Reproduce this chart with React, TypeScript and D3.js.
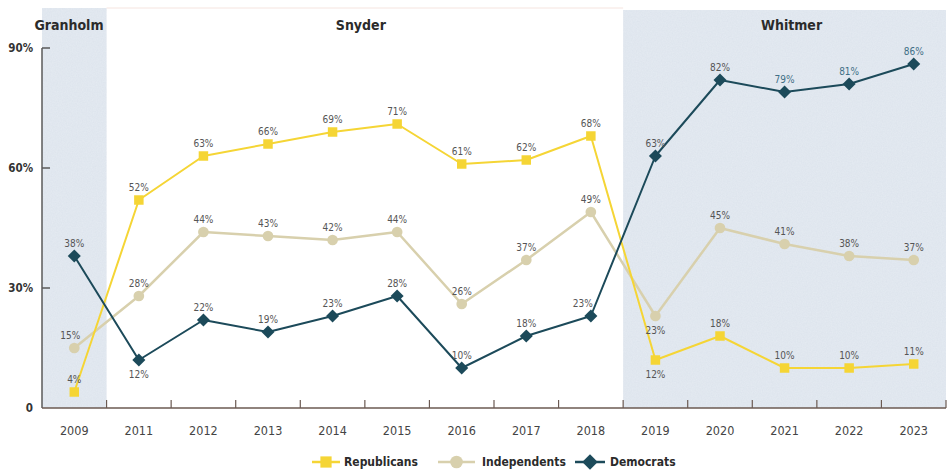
import React, { useEffect, useRef } from 'react';
import * as d3 from 'd3';

const years = ['2009', '2011', '2012', '2013', '2014', '2015', '2016', '2017', '2018', '2019', '2020', '2021', '2022', '2023'];
const republicans = [4, 52, 63, 66, 69, 71, 61, 62, 68, 12, 18, 10, 10, 11];
const independents = [15, 28, 44, 43, 42, 44, 26, 37, 49, 23, 45, 41, 38, 37];
const democrats = [38, 12, 22, 19, 23, 28, 10, 18, 23, 63, 82, 79, 81, 86];
const yTicks = [0, 30, 60, 90];

// governors: first / last year of each term in the category list
const governors = [
  { name: 'Granholm', from: '2009', to: '2009', shaded: true },
  { name: 'Snyder', from: '2011', to: '2018', shaded: false },
  { name: 'Whitmer', from: '2019', to: '2023', shaded: true },
];

// labels placed below the point instead of above
const belowLabels: Record<string, string[]> = {
  Republicans: ['2019'],
  Independents: ['2019'],
  Democrats: ['2011'],
};

const FONT = '"Liberation Sans Narrow", "DejaVu Sans Condensed", "Roboto", sans-serif';

const App: React.FC = () => {
  const svgRef = useRef<SVGSVGElement | null>(null);

  useEffect(() => {
    if (!svgRef.current) return;
    const width = 950;
    const height = 470;
    const margin = { top: 48, right: 4, bottom: 62, left: 42 };

    const svg = d3.select(svgRef.current);
    svg.selectAll('*').remove();
    svg.attr('width', width).attr('height', height).attr('viewBox', `0 0 ${width} ${height}`);

    const x = d3.scaleBand<string>()
      .domain(years)
      .range([margin.left, width - margin.right]);

    const y = d3.scaleLinear()
      .domain([0, 90])
      .range([height - margin.bottom, margin.top]);

    const bottom = y(0);

    // grain for shaded regions
    const defs = svg.append('defs');
    const filter = defs.append('filter').attr('id', 'grain');
    filter.append('feTurbulence')
      .attr('type', 'fractalNoise')
      .attr('baseFrequency', 0.8)
      .attr('numOctaves', 2)
      .attr('result', 'noise');
    filter.append('feColorMatrix')
      .attr('type', 'matrix')
      .attr('values', '0 0 0 0 0.6  0 0 0 0 0.66  0 0 0 0 0.75  0 0 0 0.35 0');
    filter.append('feComposite').attr('in2', 'SourceGraphic').attr('operator', 'in');

    const regions = svg.append('g');
    governors.forEach(g => {
      const x0 = x(g.from)!;
      const x1 = x(g.to)! + x.bandwidth();
      const top = g.name === 'Granholm' ? 8 : 10;
      if (g.shaded) {
        regions.append('rect')
          .attr('x', x0).attr('y', top)
          .attr('width', x1 - x0).attr('height', bottom - top)
          .attr('fill', '#e5ebf2');
        regions.append('rect')
          .attr('x', x0).attr('y', top)
          .attr('width', x1 - x0).attr('height', bottom - top)
          .attr('fill', '#ffffff')
          .attr('filter', 'url(#grain)');
      } else {
        regions.append('line')
          .attr('x1', x0).attr('x2', x1).attr('y1', 8).attr('y2', 8)
          .attr('stroke', '#f5e4df').attr('stroke-width', 1);
      }
      regions.append('text')
        .attr('x', g.name === 'Granholm' ? 69 : (x0 + x1) / 2 + (g.name === 'Snyder' ? -4 : 7))
        .attr('y', 30)
        .attr('text-anchor', 'middle')
        .attr('font-family', FONT)
        .attr('font-weight', 'bold')
        .attr('font-size', 14)
        .attr('fill', '#2b2b2b')
        .text(g.name);
    });

    // Y axis
    const yAxis = svg.append('g');
    yAxis.append('line')
      .attr('x1', margin.left).attr('x2', margin.left)
      .attr('y1', y(90)).attr('y2', bottom)
      .attr('stroke', '#5a5a5a').attr('stroke-width', 1.5);
    yTicks.forEach(t => {
      if (t > 0) {
        yAxis.append('line')
          .attr('x1', margin.left).attr('x2', margin.left + 8)
          .attr('y1', y(t)).attr('y2', y(t))
          .attr('stroke', '#5a5a5a').attr('stroke-width', 1.5);
      }
      yAxis.append('text')
        .attr('x', 33)
        .attr('y', y(t))
        .attr('dy', '0.35em')
        .attr('text-anchor', 'end')
        .attr('font-family', FONT)
        .attr('font-weight', 'bold')
        .attr('font-size', 11.5)
        .attr('fill', '#333')
        .text(t === 0 ? '0' : `${t}%`);
    });

    // X axis
    const xAxis = svg.append('g');
    xAxis.append('line')
      .attr('x1', margin.left).attr('x2', width - margin.right)
      .attr('y1', bottom).attr('y2', bottom)
      .attr('stroke', '#6b5a52').attr('stroke-width', 1.5);
    years.forEach(yr => {
      const edge = x(yr)! + x.bandwidth();
      xAxis.append('line')
        .attr('x1', edge).attr('x2', edge)
        .attr('y1', bottom).attr('y2', bottom - 8)
        .attr('stroke', '#6b5a52').attr('stroke-width', 1.2);
      xAxis.append('text')
        .attr('x', x(yr)! + x.bandwidth() / 2)
        .attr('y', bottom + 27)
        .attr('text-anchor', 'middle')
        .attr('font-family', FONT)
        .attr('font-size', 12.5)
        .attr('fill', '#444')
        .text(yr);
    });

    const series = [
      { name: 'Independents', values: independents, color: '#d8d0ad', width: 2.5, shape: d3.symbolCircle, size: 90, rot: 0 },
      { name: 'Republicans', values: republicans, color: '#f5d535', width: 2, shape: d3.symbolSquare, size: 90, rot: 0 },
      { name: 'Democrats', values: democrats, color: '#1c4a5a', width: 2, shape: d3.symbolSquare, size: 85, rot: 45 },
    ];

    const cx = (yr: string) => x(yr)! + x.bandwidth() / 2;

    const line = d3.line<number>()
      .x((_, i) => cx(years[i]))
      .y(d => y(d));

    const plot = svg.append('g');
    series.forEach(s => {
      plot.append('path')
        .datum(s.values)
        .attr('fill', 'none')
        .attr('stroke', s.color)
        .attr('stroke-width', s.width)
        .attr('stroke-linejoin', 'round')
        .attr('d', line);
      plot.selectAll(`.pt-${s.name}`)
        .data(s.values)
        .enter()
        .append('path')
        .attr('class', `pt-${s.name}`)
        .attr('transform', (d, i) => `translate(${cx(years[i])},${y(d)}) rotate(${s.rot})`)
        .attr('d', d3.symbol().type(s.shape).size(s.size)())
        .attr('fill', s.color);
    });

    // value labels
    const labels = svg.append('g');
    series.forEach(s => {
      s.values.forEach((v, i) => {
        const yr = years[i];
        const below = belowLabels[s.name].includes(yr);
        let dx = 0;
        if (s.name === 'Independents' && yr === '2009') dx = -4;
        if (s.name === 'Democrats' && yr === '2018') dx = -8;
        const blue = s.name === 'Democrats' && ['2021', '2022', '2023'].includes(yr);
        labels.append('text')
          .attr('x', cx(yr) + dx)
          .attr('y', y(v) + (below ? 18 : -9))
          .attr('text-anchor', 'middle')
          .attr('font-family', FONT)
          .attr('font-size', 10)
          .attr('fill', blue ? '#3f6f86' : '#555')
          .text(`${v}%`);
      });
    });

    // Legend
    const legend = svg.append('g').attr('transform', 'translate(0, 462)');
    const items = [
      { s: series[1], x: 312, len: 28, tx: 344 },
      { s: series[0], x: 438, len: 37, tx: 482 },
      { s: series[2], x: 575, len: 30, tx: 610 },
    ];
    items.forEach(({ s, x: lx, len, tx }) => {
      legend.append('line')
        .attr('x1', lx).attr('x2', lx + len)
        .attr('y1', 0).attr('y2', 0)
        .attr('stroke', s.color).attr('stroke-width', 2.5);
      legend.append('path')
        .attr('transform', `translate(${lx + len / 2},0) rotate(${s.rot})`)
        .attr('d', d3.symbol().type(s.shape).size(s.size * 1.4)())
        .attr('fill', s.color);
      legend.append('text')
        .attr('x', tx)
        .attr('y', 0)
        .attr('dy', '0.35em')
        .attr('font-family', FONT)
        .attr('font-weight', 'bold')
        .attr('font-size', 12)
        .attr('fill', '#2b2b2b')
        .text(s.name);
    });
  }, []);

  return (
    <div style={{ position: 'absolute', left: 0, top: 0 }}>
      <svg ref={svgRef} style={{ display: 'block' }} />
    </div>
  );
};

export default App;
